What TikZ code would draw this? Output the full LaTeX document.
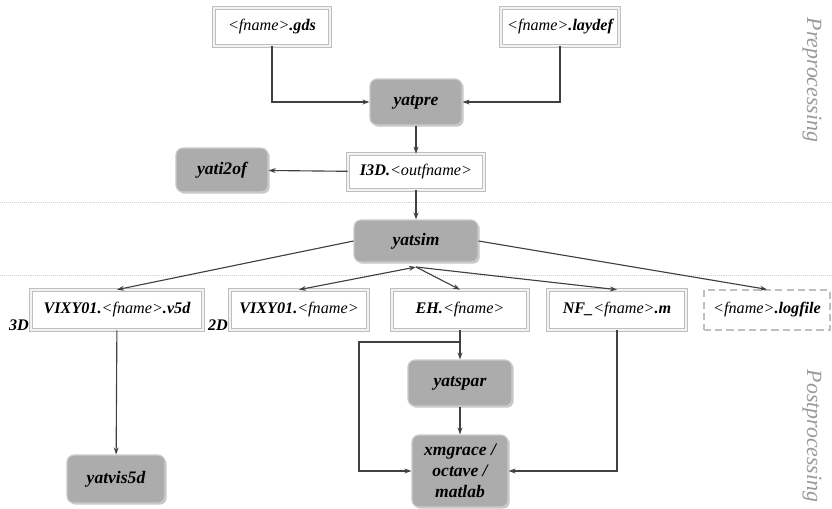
\documentclass[tikz,border=0pt]{standalone}
\usepackage{fontspec}
\setmainfont{Liberation Serif}
\usetikzlibrary{arrows.meta,shadows}

\tikzset{
  filebox/.style={draw=gray!50, double=gray!10, double distance=1.2pt, line width=0.5pt,
    minimum height=0.95cm, inner sep=2pt, font=\fontsize{11.5}{13}\selectfont\bfseries\itshape},
  logbox/.style={draw=gray!50, dash pattern=on 5pt off 3pt, line width=0.9pt,
    minimum height=0.95cm, inner sep=2pt, font=\fontsize{11.5}{13}\selectfont\bfseries\itshape},
  toolbox/.style={draw=gray!40, line width=0.8pt, fill=gray!65, rounded corners=5pt,
    drop shadow={shadow xshift=1.2pt, shadow yshift=-1.2pt, opacity=0.45},
    minimum height=1.15cm, align=center, font=\fontsize{12.5}{15}\selectfont\bfseries\itshape},
  arr/.style={-{Stealth[length=5pt,width=3.5pt]}, draw=black!75, line width=0.8pt},
  arrboth/.style={arr, {Stealth[length=5pt,width=3.5pt]}-{Stealth[length=5pt,width=3.5pt]}},
  sep/.style={draw=gray!35, line width=0.4pt, densely dotted},
  dimlabel/.style={font=\fontsize{11.5}{13}\selectfont\bfseries\itshape},
  phase/.style={text=gray!80, rotate=-90, font=\fontsize{15.5}{18}\selectfont\itshape}
}
\newcommand{\fnm}{{\mdseries<fname>}}

\begin{document}
\begin{tikzpicture}[x=0.025cm, y=-0.025cm]
    \useasboundingbox (0,0) rectangle (832,508);

    % stage separators
    \draw[sep] (0,202) -- (832,202);
    \draw[sep] (0,275) -- (832,275);

    % preprocessing
    \node[filebox, minimum width=2.9cm] (gds) at (272,27) {\fnm.gds};
    \node[filebox, minimum width=2.95cm] (laydef) at (560,27) {\fnm.laydef};
    \node[toolbox, minimum width=2.3cm] (yatpre) at (416,102) {yatpre};
    \node[filebox, minimum width=3.4cm, minimum height=0.9cm] (i3d) at (416,172) {I3D.\mdseries<outfname>};
    \node[toolbox, minimum width=2.3cm, minimum height=1.1cm] (yati2of) at (222,170) {yati2of};

    % simulation
    \node[toolbox, minimum width=3.1cm, minimum height=1.05cm] (yatsim) at (416,241) {yatsim};
    \coordinate (hub) at (416,267);

    % result files
    \node[filebox, minimum width=4.3cm, minimum height=1cm] (v5d) at (117,310) {VIXY01.\fnm.v5d};
    \node[filebox, minimum width=3.45cm, minimum height=1cm] (vixy) at (299,310) {VIXY01.\fnm};
    \node[filebox, minimum width=3.4cm, minimum height=1cm] (eh) at (460,310) {EH.\fnm};
    \node[filebox, minimum width=3.45cm, minimum height=1cm] (nf) at (617,310) {NF\_\fnm.m};
    \node[logbox, minimum width=3.15cm, minimum height=1cm] (logf) at (767,310) {\fnm.logfile};
    \node[dimlabel] (lab3d) at (19,325) {3D};
    \node[dimlabel] (lab2d) at (218,325) {2D};

    % postprocessing
    \node[toolbox, minimum width=2.45cm, minimum height=1.2cm] (yatvis) at (116,479) {yatvis5d};
    \node[toolbox, minimum width=2.6cm, minimum height=1.15cm] (yatspar) at (460,383) {yatspar};
    \node[toolbox, minimum width=2.4cm, minimum height=1.8cm] (xmg) at (460,471) {xmgrace /\\octave /\\matlab};
    \coordinate (ehsplit) at (460,342);
    \coordinate (loopl) at (359,342);

    \node[phase] (pre) at (812,80) {Preprocessing};
    \node[phase] (post) at (812,436) {Postprocessing};

    \draw[arr] (gds.south) |- (yatpre.west);
    \draw[arr] (laydef.south) |- (yatpre.east);
    \draw[arr] (yatpre) -- (i3d);
    \draw[arr] (i3d) -- (yati2of);
    \draw[arr] (i3d) -- (yatsim);

    \draw[arr] (yatsim.west) -- (v5d.north);
    \draw[arrboth] (vixy.north) -- (hub);
    \draw[arr] (hub) -- (eh.north);
    \draw[arr] (hub) -- (nf.north);
    \draw[arr] (yatsim.east) -- (logf.north);

    \draw[arr] (v5d) -- (yatvis);
    \draw[arr] (eh.south) -- (ehsplit) -- (yatspar.north);
    \draw[arr] (ehsplit) -- (loopl) |- (xmg.west);
    \draw[arr] (yatspar) -- (xmg);
    \draw[arr] (nf.south) |- (xmg.east);
\end{tikzpicture}
\end{document}
